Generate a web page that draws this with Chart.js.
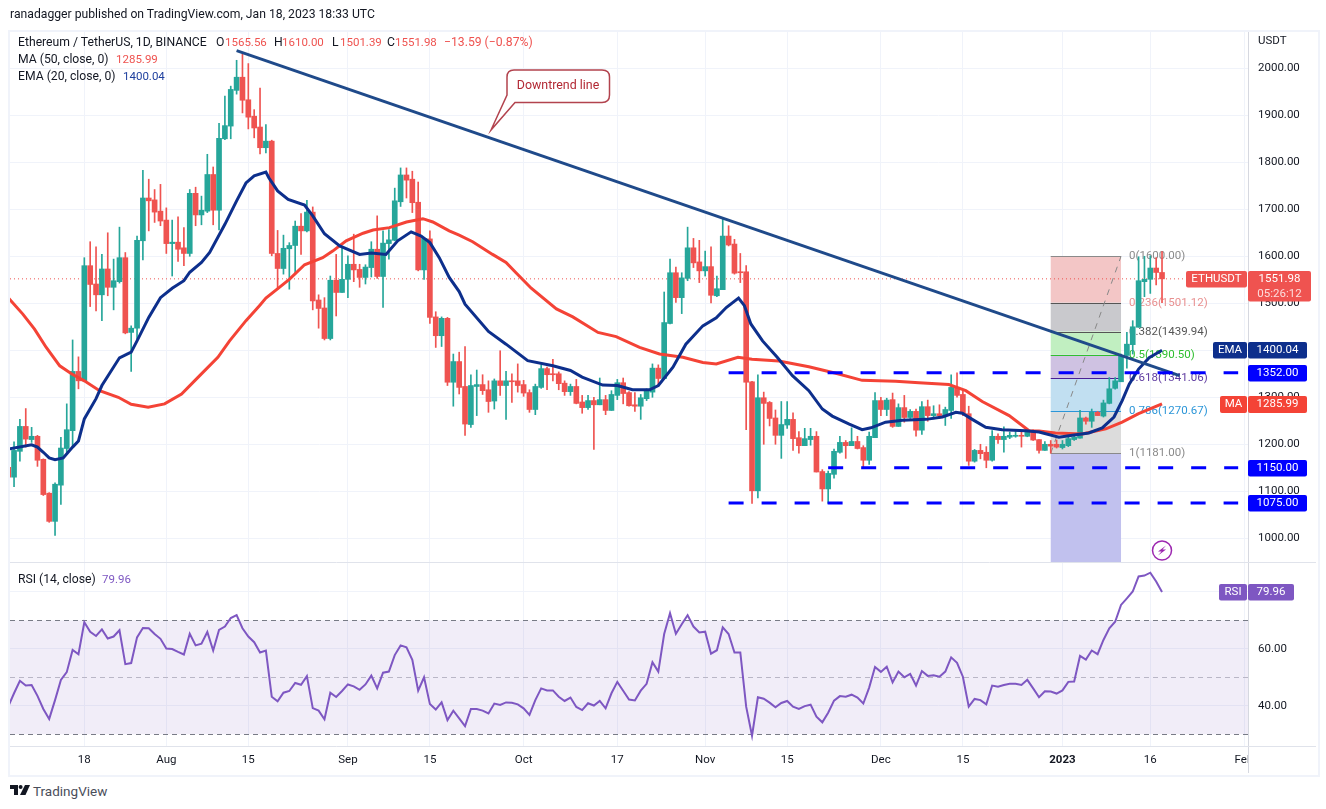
<!DOCTYPE html>
<html>
<head>
<meta charset="utf-8">
<title>ETHUSDT</title>
<script src="https://cdn.jsdelivr.net/npm/chart.js@4"></script>
<style>
  html, body { margin: 0; padding: 0; background: #fff; }
  #page { position: relative; width: 1326px; height: 809px; overflow: hidden; font-family: Roboto, sans-serif; font-size: 12.2px; color: #131722; }
  #page canvas { position: absolute; left: 0; }
  #frame { position: absolute; left: 8px; top: 30px; width: 1308px; height: 743px; border: 2px solid #f0f3fa; }
  .t { position: absolute; white-space: nowrap; line-height: 14px; }
  .n { font-size: 11.5px; }
  .red { color: #ef5350; }
  .blue { color: #1e3f9e; }
  .purple { color: #7e57c2; }
</style>
</head>
<body>
<div id="page">
  <div id="frame"></div>
  <canvas id="priceChart" width="1326" height="563" style="top:0"></canvas>
  <canvas id="rsiChart" width="1326" height="210" style="top:563px"></canvas>

  <span class="t" style="left:10px;top:7px">ranadagger published on TradingView.com, Jan 18, 2023 18:33 UTC</span>

  <span class="t" style="left:18px;top:35px">Ethereum / TetherUS, 1D, BINANCE</span>
  <span class="t" style="left:216px;top:35px">O</span><span class="t n red" style="left:225px;top:35px">1565.56</span>
  <span class="t" style="left:274px;top:35px">H</span><span class="t n red" style="left:282px;top:35px">1610.00</span>
  <span class="t" style="left:332px;top:35px">L</span><span class="t n red" style="left:340px;top:35px">1501.39</span>
  <span class="t" style="left:387px;top:35px">C</span><span class="t n red" style="left:395px;top:35px">1551.98</span>
  <span class="t red" style="left:444px;top:35px">−13.59 (−0.87%)</span>
  <span class="t" style="left:18px;top:52px">MA (50, close, 0)</span><span class="t n red" style="left:116px;top:52px">1285.99</span>
  <span class="t" style="left:18px;top:69px">EMA (20, close, 0)</span><span class="t n blue" style="left:123px;top:69px">1400.04</span>
  <span class="t" style="left:18px;top:572px">RSI (14, close)</span><span class="t n purple" style="left:102px;top:572px">79.96</span>

  <svg style="position:absolute;left:10px;top:785px" width="20" height="10" viewBox="0 0 20 10">
    <path fill="#131722" d="M0 0h8v10H4V4H0z"/><circle fill="#131722" cx="10.6" cy="2" r="2"/><path fill="#131722" d="M15 0h5l-4.5 10H10z"/>
  </svg>
  <span class="t" style="left:33px;top:784px;font-size:13.5px;color:#4a4e5a">TradingView</span>
</div>

<script>
// candles, one per day, Jul 5 2022 = day 0 ... Jan 18 2023 = day 197
const opens = [
  1151,1130,1185,1238,1210,1217,1168,1096,1036,1113,1191,1229,1355,1335,1580,1541,1518,1573,1534,1546,1597,1438,1447,1633,1724,1720,1696,
  1677,1627,1630,1618,1606,1734,1688,1696,1774,1698,1850,1877,1953,1981,1933,1898,1875,1831,1845,1606,1574,1616,1623,1664,1654,1694,1507,1490,1425,1549,1523,
  1551,1583,1572,1555,1576,1615,1557,1627,1634,1716,1773,1764,1715,1571,1637,1471,1431,1468,1332,1376,1323,1242,1323,1327,1316,1292,1335,1325,1335,1335,
  1327,1310,1274,1321,1361,1350,1350,1330,1312,1323,1290,1278,1293,1284,1295,1272,1304,1331,1310,1284,1281,1297,1311,1362,1340,1457,1565,1512,1553,1618,1588,
  1569,1578,1516,1529,1643,1626,1567,1567,1333,1101,1299,1289,1256,1219,1241,1253,1214,1197,1210,1217,1142,1105,1136,1183,1204,1197,1206,1193,1166,1214,
  1293,1274,1295,1238,1278,1257,1270,1230,1280,1261,1265,1261,1272,1321,1306,1265,1164,1187,1183,1166,1217,1210,1215,1217,1219,1217,1228,1210,1187,1200,1200,
  1193,1197,1210,1213,1256,1249,1268,1260,1287,1319,1333,1389,1412,1449,1546,1551,1575,1565.56
];
const highs = [
  1160,1205,1253,1276,1236,1219,1169,1097,1118,1215,1286,1422,1386,1597,1631,1620,1604,1650,1594,1662,1608,1452,1643,1783,1764,1742,1753,
  1703,1677,1684,1661,1742,1747,1728,1817,1790,1883,1941,1962,2017,2030,2010,1912,1958,1880,1847,1655,1645,1629,1675,1691,1719,1705,1518,1512,1558,1604,1619,
  1601,1647,1583,1582,1631,1686,1654,1657,1745,1788,1788,1781,1758,1640,1654,1482,1471,1470,1392,1396,1408,1348,1358,1348,1335,1339,1399,1355,1350,1371,
  1336,1316,1328,1369,1364,1381,1354,1335,1328,1338,1304,1304,1300,1341,1304,1314,1338,1341,1312,1310,1306,1318,1371,1369,1524,1594,1577,1565,1662,1638,1634,
  1611,1620,1558,1679,1665,1636,1606,1580,1334,1348,1311,1291,1273,1291,1291,1267,1227,1234,1234,1227,1146,1143,1190,1217,1208,1235,1217,1197,1226,1310,
  1300,1298,1309,1286,1304,1274,1275,1291,1294,1282,1284,1279,1348,1352,1314,1281,1189,1200,1195,1229,1222,1237,1226,1227,1229,1231,1231,1210,1206,1208,1209,
  1208,1222,1219,1272,1258,1275,1270,1294,1342,1342,1392,1438,1463,1599,1600,1601,1597,1610
];
const lows = [
  1120,1110,1164,1194,1204,1153,1091,1034,1006,1072,1183,1194,1318,1335,1493,1484,1463,1516,1486,1543,1435,1355,1424,1592,1654,1672,1665,
  1606,1558,1589,1580,1600,1665,1667,1693,1667,1656,1848,1850,1945,1905,1871,1852,1818,1820,1601,1530,1562,1530,1562,1604,1652,1486,1447,1422,1422,1473,1523,
  1512,1546,1534,1541,1556,1553,1491,1594,1633,1706,1724,1693,1569,1551,1457,1406,1408,1325,1281,1307,1219,1236,1261,1306,1268,1275,1304,1253,1289,1311,
  1302,1268,1263,1319,1316,1335,1316,1304,1304,1286,1266,1274,1189,1284,1263,1272,1295,1286,1281,1270,1253,1293,1300,1323,1340,1456,1502,1478,1548,1576,1544,
  1558,1501,1514,1529,1622,1562,1544,1231,1074,1086,1200,1239,1200,1170,1234,1187,1181,1197,1198,1141,1079,1074,1128,1181,1170,1197,1190,1150,1157,1214,
  1261,1261,1236,1238,1247,1255,1217,1221,1249,1254,1255,1240,1255,1300,1261,1155,1162,1169,1150,1164,1202,1183,1212,1215,1194,1216,1208,1181,1187,1181,1192,
  1190,1195,1208,1213,1243,1236,1261,1258,1286,1317,1333,1362,1392,1449,1514,1521,1539,1501.39
];
const closes = [
  1130,1187,1238,1211,1217,1166,1093,1036,1115,1192,1231,1355,1335,1580,1540,1518,1573,1534,1548,1597,1437,1447,1634,1724,1718,1694,1675,
  1627,1630,1615,1606,1734,1688,1698,1774,1698,1851,1878,1955,1981,1932,1896,1873,1831,1845,1606,1574,1617,1623,1664,1654,1694,1505,1489,1425,1549,1523,1551,
  1583,1571,1555,1577,1615,1557,1628,1635,1718,1773,1762,1714,1571,1638,1470,1431,1468,1332,1376,1321,1243,1325,1327,1314,1291,1335,1325,1335,1333,1325,
  1309,1274,1323,1361,1348,1348,1329,1312,1323,1287,1278,1293,1284,1295,1272,1306,1331,1308,1282,1281,1299,1313,1362,1340,1459,1565,1512,1554,1618,1586,1569,
  1578,1517,1531,1643,1624,1564,1565,1332,1101,1299,1287,1255,1219,1242,1253,1212,1197,1212,1217,1141,1105,1138,1185,1204,1197,1206,1191,1166,1217,1293,
  1274,1294,1238,1278,1257,1270,1230,1280,1261,1265,1261,1274,1321,1304,1265,1164,1187,1180,1166,1217,1210,1217,1219,1219,1217,1228,1209,1187,1200,1196,1194,
  1200,1212,1215,1256,1249,1268,1261,1288,1318,1335,1388,1413,1450,1548,1551,1575,1565.56,1551.98
];

const emaDays = [0,4,5,6,7,8,9.4,11,12,13,15,16,19,21,22,24,26,28,30,31,33,34.4,37,39,40.6,42,44,44.5,46,47.8,50.6,52,54,56.6,60,62,64.5,66.5,68.8,70.5,72,73.6,75.3,77,78,82,85,88.7,93,96,98,101.5,104,106.6,109.5,111,113.5,115.7,118.6,120.9,122.6,124.7,125.7,126.8,128.8,131.3,133.9,136.7,139,140.7,143.6,145.8,147.3,149.8,152.7,156.7,159.5,161.8,162.9,164.6,166.9,169.7,173.7,176,179.4,181.7,184.5,186.8,188.8,190.2,191.4,193,194.8,197];
const emaValues = [1190,1199,1194,1183,1171,1167,1171,1194,1207,1254,1297,1325,1384,1396,1420,1470,1512,1532,1548,1566,1587,1608,1668,1718,1756,1771,1779,1767,1739,1721,1709,1686,1648,1622,1604,1607,1604,1633,1652,1643,1629,1597,1555,1525,1498,1440,1413,1378,1367,1357,1343,1326,1325,1316,1316,1325,1364,1413,1452,1469,1491,1511,1495,1456,1420,1385,1346,1314,1275,1260,1243,1231,1235,1247,1251,1253,1258,1268,1266,1253,1236,1231,1229,1226,1215,1219,1224,1235,1258,1293,1328,1360,1384,1400.04];
const maDays = [0,2.5,4.5,6.5,8.8,10.8,13,15.6,18.8,21,23.9,26.7,29.6,32.7,35.8,37.8,40.6,42.9,44,46.3,48,50.6,53.7,55.4,57.7,60.6,62.3,65.1,68,70.8,72.5,75.3,77,79.3,82.7,85,86.7,89.3,93.6,96.4,100.7,103.8,107.8,111.2,115.2,118.6,120.9,124.6,127,131.6,136.7,141.3,145.8,151.5,155.5,160.6,163.5,166.3,170.9,174.3,176,178.8,183.4,187.4,190.2,193,197];
const maValues = [1512,1477,1445,1406,1367,1350,1335,1314,1300,1285,1279,1286,1307,1346,1385,1420,1463,1495,1511,1534,1551,1582,1597,1611,1633,1649,1656,1661,1673,1680,1673,1654,1645,1631,1604,1587,1565,1532,1488,1471,1438,1429,1406,1392,1385,1374,1371,1385,1381,1377,1365,1351,1336,1334,1331,1327,1314,1291,1261,1229,1228,1224,1222,1233,1247,1265,1285.99];

const rsiValues = [
  39.7,44.4,48.8,47.1,47.3,43.5,38.9,35.4,42.0,49.1,51.8,59.6,58.1,69.3,66.0,64.5,66.8,63.6,64.3,66.5,54.6,55.0,64.0,67.3,67.2,65.2,63.5,
  60.1,59.9,58.9,58.0,65.3,61.2,61.8,65.9,59.4,66.6,67.8,70.8,71.8,67.2,64.3,62.3,58.7,59.4,43.2,41.6,44.6,45.2,48.0,47.4,50.4,39.2,38.3,35.3,44.6,43.1,45.2,
  47.5,46.8,45.6,47.5,50.6,46.1,51.6,52.0,57.8,61.2,60.5,56.1,45.3,50.0,40.6,38.7,41.2,35.0,38.3,35.6,32.9,38.9,38.9,38.3,37.3,40.8,40.3,41.2,41.1,40.5,
  39.1,36.8,42.0,46.1,45.4,45.4,43.2,41.7,42.9,39.6,38.5,40.9,40.1,41.7,39.1,44.4,48.4,45.3,42.2,41.9,45.3,47.7,55.3,52.0,65.2,72.5,65.3,68.6,71.8,67.8,65.7,
  66.0,58.3,59.5,67.5,65.2,58.7,58.7,39.7,29.5,43.0,42.5,41.1,39.5,41.0,41.7,39.7,38.9,39.9,40.4,36.2,34.2,37.6,41.8,43.4,43.2,43.9,42.9,40.8,46.4,53.6,51.9,
  53.7,48.2,52.0,50.0,51.2,47.1,52.2,50.5,50.7,50.2,52.0,57.0,55.1,50.2,39.7,42.4,42.0,40.5,47.1,46.7,47.3,47.7,47.7,47.3,49.1,46.1,43.0,45.1,45.0,44.3,45.4,
  48.4,48.5,57.5,56.2,59.4,58.1,63.1,67.2,69.5,75.4,77.7,80.1,85.4,85.7,86.7,83.6,79.96
];

// axes
const priceTicks = [1000,1100,1200,1300,1400,1500,1600,1700,1800,1900,2000];
const rsiTicks = [40,60,80];
const dateTicks = [13,27,41,58,72,88,104,119,133,149,163,180,195,211];
const dateLabels = ['18','Aug','15','Sep','15','Oct','17','Nov','15','Dec','15','2023','16','Feb'];

// drawings on the chart
const trendDays = [39,200];
const trendPrices = [2037.6,1346];
const supportLevels = [1352,1150,1075];
const supportStartDays = [123,140,123];
const supportEndDay = 210;
const fibRatios = ['0','0.236','0.382','0.5','0.618','0.786','1'];
const fibPrices = [1600,1501.12,1439.94,1390.5,1341.06,1270.67,1181];
const fibFills = ['#f3c6c6','#c9c9cd','#c1efc1','#cfc2e2','#c1dff1','#dcdcdc','#c1c1ee'];
const fibColors = ['#8a8a8a','#e89090','#555555','#2fbf2f','#5e3aa0','#2c96d8','#8a8a8a'];
const fibLines = ['#8a8a8a','#555555','#555555','#2fbf2f','#4a1f96','#2c96d8','#8a8a8a'];
const fibDays = [178,190];
const lastPrice = 1551.98;

const UP = '#26a69a', DOWN = '#ef5350';
const days = opens.map((_, i) => i);
const candleColors = days.map(i => closes[i] >= opens[i] ? UP : DOWN);
const FONT = '11.5px Roboto, sans-serif';
const X_MIN = 0.31, X_MAX = 211.68;

function tag(ctx, x, y, w, h, color, text, sub) {
  ctx.fillStyle = color;
  ctx.beginPath();
  ctx.roundRect(x, y, w, h, 2);
  ctx.fill();
  ctx.fillStyle = '#fff';
  ctx.font = FONT;
  ctx.textAlign = 'center';
  ctx.textBaseline = 'middle';
  ctx.fillText(text, x + w / 2, y + (sub ? 8 : h / 2));
  if (sub) {
    ctx.globalAlpha = 0.8;
    ctx.fillText(sub, x + w / 2, y + 23);
    ctx.globalAlpha = 1;
  }
}

const fibPlugin = {
  id: 'fib',
  beforeDatasetsDraw(chart) {
    const { ctx, chartArea: area, scales: { x, y } } = chart;
    const left = x.getPixelForValue(fibDays[0]);
    const right = x.getPixelForValue(fibDays[1]);
    ctx.save();
    fibPrices.forEach((p, i) => {
      const top = y.getPixelForValue(p);
      const bottom = i < fibPrices.length - 1 ? y.getPixelForValue(fibPrices[i + 1]) : area.bottom;
      ctx.fillStyle = fibFills[i];
      ctx.fillRect(left, top, right - left, bottom - top);
    });
    fibPrices.forEach((p, i) => {
      const py = Math.round(y.getPixelForValue(p)) + 0.5;
      ctx.strokeStyle = fibLines[i];
      ctx.lineWidth = 1;
      ctx.beginPath();
      ctx.moveTo(left, py);
      ctx.lineTo(right, py);
      ctx.stroke();
      ctx.fillStyle = fibColors[i];
      ctx.font = FONT;
      ctx.textAlign = 'left';
      ctx.textBaseline = 'middle';
      ctx.fillText(fibRatios[i] + '(' + p.toFixed(2) + ')', right + 8, py);
    });
    ctx.restore();
  }
};

const overlayPlugin = {
  id: 'overlay',
  afterDraw(chart) {
    const { ctx, chartArea: area, scales: { x, y } } = chart;
    ctx.save();
    // price axis border
    ctx.strokeStyle = '#d6d8e0';
    ctx.lineWidth = 1;
    ctx.beginPath();
    ctx.moveTo(area.right + 0.5, area.top);
    ctx.lineTo(area.right + 0.5, area.bottom);
    ctx.stroke();
    ctx.strokeStyle = '#e0e3eb';
    ctx.beginPath();
    ctx.moveTo(area.left, area.bottom - 0.5);
    ctx.lineTo(1316, area.bottom - 0.5);
    ctx.stroke();

    ctx.fillStyle = '#131722';
    ctx.font = FONT;
    ctx.textAlign = 'left';
    ctx.textBaseline = 'middle';
    ctx.fillText('USDT', 1258, 41);

    // callout
    ctx.strokeStyle = '#b2434e';
    ctx.fillStyle = '#fff';
    ctx.lineWidth = 1.5;
    ctx.beginPath();
    ctx.moveTo(514, 70);
    ctx.lineTo(602, 70);
    ctx.quadraticCurveTo(609.5, 70, 609.5, 77);
    ctx.lineTo(609.5, 95);
    ctx.quadraticCurveTo(609.5, 102.5, 602, 102.5);
    ctx.lineTo(515, 102.5);
    ctx.lineTo(491, 130);
    ctx.lineTo(507, 95);
    ctx.lineTo(507, 77);
    ctx.quadraticCurveTo(507, 70, 514, 70);
    ctx.closePath();
    ctx.fill();
    ctx.stroke();
    ctx.fillStyle = '#b22833';
    ctx.font = '12.4px Roboto, sans-serif';
    ctx.textAlign = 'center';
    ctx.fillText('Downtrend line', 558, 86);

    // news marker
    const bx = x.getPixelForValue(197), by = 550.5;
    ctx.strokeStyle = '#9c27b0';
    ctx.fillStyle = '#fff';
    ctx.lineWidth = 1.5;
    ctx.beginPath();
    ctx.arc(bx, by, 9.5, 0, Math.PI * 2);
    ctx.fill();
    ctx.stroke();
    ctx.fillStyle = '#9c27b0';
    ctx.beginPath();
    ctx.moveTo(bx + 4, by - 5);
    ctx.lineTo(bx - 4, by + 1);
    ctx.lineTo(bx - 0.5, by + 1);
    ctx.lineTo(bx - 4, by + 5);
    ctx.lineTo(bx + 4, by - 1);
    ctx.lineTo(bx + 0.5, by - 1);
    ctx.closePath();
    ctx.fill();

    // price tags
    supportLevels.forEach(v => {
      tag(ctx, 1248, Math.round(y.getPixelForValue(v)) - 8, 59, 16.5, '#0000ff', v.toFixed(2));
    });
    const maY = Math.round(y.getPixelForValue(maValues[maValues.length - 1]));
    tag(ctx, 1220, maY - 8, 27, 17, '#f44336', 'MA');
    tag(ctx, 1248, maY - 8, 59, 17, '#f44336', maValues[maValues.length - 1].toFixed(2));
    const emaY = Math.round(y.getPixelForValue(emaValues[emaValues.length - 1]));
    tag(ctx, 1213, emaY - 8, 34, 16.5, '#0d2f8c', 'EMA');
    tag(ctx, 1248, emaY - 8, 59, 16.5, '#0d2f8c', emaValues[emaValues.length - 1].toFixed(2));
    const lastY = Math.round(y.getPixelForValue(lastPrice));
    tag(ctx, 1186, lastY - 8, 61, 16.5, DOWN, 'ETHUSDT');
    tag(ctx, 1248, lastY - 8, 63, 30.5, DOWN, lastPrice.toFixed(2), '05:26:12');
    ctx.restore();
  }
};

const rsiPlugin = {
  id: 'rsiBand',
  beforeDatasetsDraw(chart) {
    const { ctx, chartArea: area, scales: { y } } = chart;
    const y70 = y.getPixelForValue(70), y30 = y.getPixelForValue(30);
    ctx.save();
    ctx.fillStyle = 'rgba(126,87,194,0.11)';
    ctx.fillRect(area.left, y70, area.right - area.left, y30 - y70);
    [[70, '#787b86'], [50, '#b9b6c6'], [30, '#787b86']].forEach(([v, c]) => {
      const py = Math.round(y.getPixelForValue(v)) + 0.5;
      ctx.strokeStyle = c;
      ctx.lineWidth = 1;
      ctx.setLineDash([5, 4]);
      ctx.beginPath();
      ctx.moveTo(area.left, py);
      ctx.lineTo(area.right, py);
      ctx.stroke();
    });
    ctx.restore();
  },
  afterDraw(chart) {
    const { ctx, chartArea: area, scales: { y } } = chart;
    ctx.save();
    // the Feb label runs under the price axis column
    ctx.fillStyle = '#fff';
    ctx.fillRect(area.right, area.bottom + 1, 68, 26);
    ctx.strokeStyle = '#d6d8e0';
    ctx.lineWidth = 1;
    ctx.beginPath();
    ctx.moveTo(area.right + 0.5, area.top);
    ctx.lineTo(area.right + 0.5, area.bottom + 27);
    ctx.stroke();
    ctx.strokeStyle = '#e0e3eb';
    ctx.beginPath();
    ctx.moveTo(area.left, area.bottom + 0.5);
    ctx.lineTo(1316, area.bottom + 0.5);
    ctx.stroke();
    const last = rsiValues[rsiValues.length - 1];
    const py = Math.round(y.getPixelForValue(last));
    tag(ctx, 1219, py - 8, 28, 16.5, '#7e57c2', 'RSI');
    tag(ctx, 1248, py - 8, 46, 16.5, '#7e57c2', last.toFixed(2));
    ctx.restore();
  }
};

function lineSet(xs, ys, color, width, dash) {
  return {
    type: 'line',
    data: xs.map((d, i) => ({ x: d, y: ys[i] })),
    borderColor: color,
    borderWidth: width,
    borderDash: dash || [],
    pointRadius: 0,
    tension: 0
  };
}

// labels must not add padding around the plot, the panels sit edge to edge
function fixY(s) {
  s.width = 68;
  s.paddingTop = 0;
  s.paddingBottom = 0;
}

const supportSets = supportLevels.map((v, i) =>
  lineSet([supportStartDays[i], supportEndDay], [v, v], '#0000ff', 3, [15, 18]));

new Chart(document.getElementById('priceChart'), {
  type: 'bar',
  data: {
    datasets: [
      ...supportSets,
      lineSet(trendDays, trendPrices, '#1f4a8a', 3),
      lineSet(emaDays, emaValues, '#0d2f8c', 3),
      lineSet(maDays, maValues, '#f44336', 3),
      {
        data: days.map(i => ({ x: i, y: [opens[i], closes[i]] })),
        backgroundColor: candleColors,
        barThickness: 5,
        minBarLength: 1,
        grouped: false
      },
      {
        data: days.map(i => ({ x: i, y: [lows[i], highs[i]] })),
        backgroundColor: candleColors,
        barThickness: 1,
        grouped: false
      },
      lineSet(fibDays, [fibPrices[6], fibPrices[0]], '#888888', 1, [6, 6]),
      lineSet([X_MIN, X_MAX], [lastPrice, lastPrice], DOWN, 1, [1, 3])
    ]
  },
  plugins: [fibPlugin, overlayPlugin],
  options: {
    responsive: false,
    devicePixelRatio: 1,
    animation: false,
    layout: { padding: { left: 10, right: 10, top: 32, bottom: 0 } },
    plugins: { legend: { display: false }, tooltip: { enabled: false } },
    scales: {
      x: {
        type: 'linear',
        min: X_MIN,
        max: X_MAX,
        offset: false,
        afterBuildTicks: s => { s.ticks = dateTicks.map(v => ({ value: v })); },
        afterFit: s => { s.height = 0; s.paddingLeft = 0; s.paddingRight = 0; },
        ticks: { display: false },
        grid: { color: '#f0f3fa', drawTicks: false, offset: false },
        border: { display: false }
      },
      y: {
        position: 'right',
        min: 947.4,
        max: 2077.2,
        afterBuildTicks: s => { s.ticks = priceTicks.map(v => ({ value: v })); },
        afterFit: fixY,
        ticks: { color: '#131722', font: { family: 'Roboto', size: 11.5 }, padding: 10, callback: v => v.toFixed(2) },
        grid: { color: '#f0f3fa', drawTicks: false },
        border: { display: false }
      }
    }
  }
});

new Chart(document.getElementById('rsiChart'), {
  type: 'line',
  data: {
    datasets: [lineSet(days, rsiValues, '#7e57c2', 2)]
  },
  plugins: [rsiPlugin],
  options: {
    responsive: false,
    devicePixelRatio: 1,
    animation: false,
    layout: { padding: { left: 10, right: 10, top: 0, bottom: 0 } },
    plugins: { legend: { display: false }, tooltip: { enabled: false } },
    scales: {
      x: {
        type: 'linear',
        min: X_MIN,
        max: X_MAX,
        afterBuildTicks: s => { s.ticks = dateTicks.map(v => ({ value: v })); },
        afterFit: s => { s.height = 27; s.paddingLeft = 0; s.paddingRight = 0; },
        ticks: {
          color: '#131722',
          padding: 7,
          autoSkip: false,
          maxRotation: 0,
          font: c => ({ family: 'Roboto', size: 11.5, weight: c.tick && c.tick.value === 180 ? 'bold' : 'normal' }),
          callback: v => dateLabels[dateTicks.indexOf(v)]
        },
        grid: { color: '#f0f3fa', drawTicks: false },
        border: { display: false }
      },
      y: {
        position: 'right',
        min: 25.9,
        max: 90.1,
        afterBuildTicks: s => { s.ticks = rsiTicks.map(v => ({ value: v })); },
        afterFit: fixY,
        ticks: { color: '#131722', font: { family: 'Roboto', size: 11.5 }, padding: 10, callback: v => v.toFixed(2) },
        grid: { color: '#f0f3fa', drawTicks: false },
        border: { display: false }
      }
    }
  }
});
</script>
</body>
</html>
